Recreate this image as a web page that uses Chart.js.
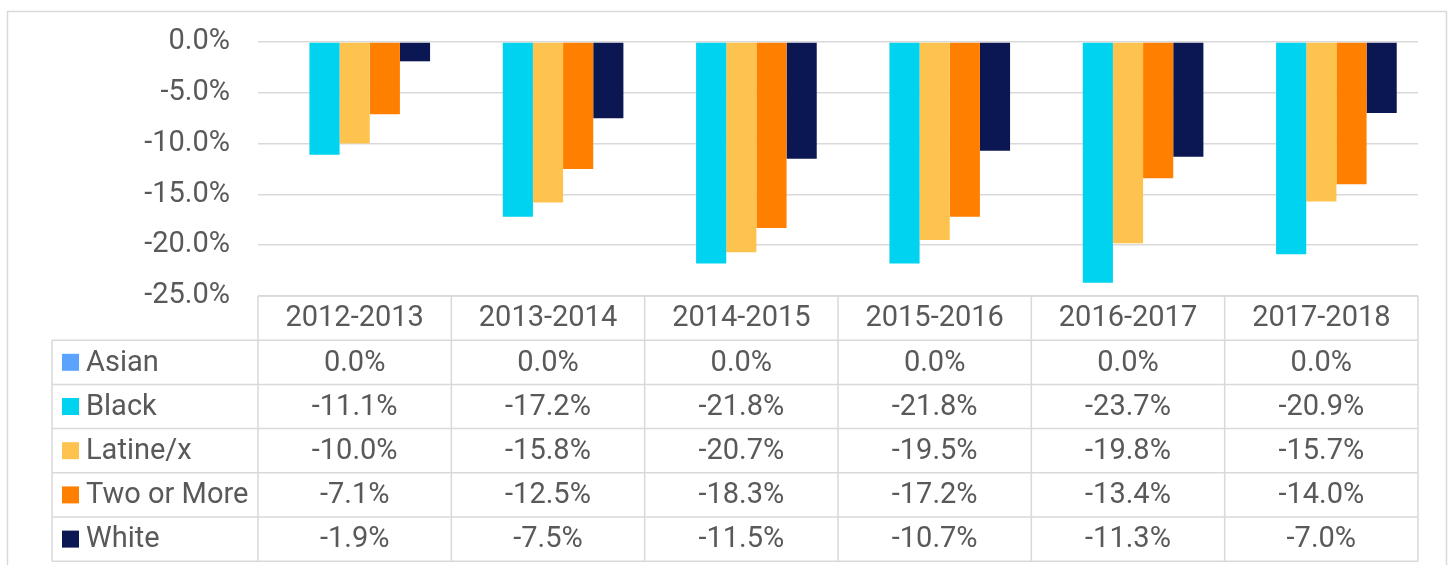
<!DOCTYPE html>
<html>
<head>
<meta charset="utf-8">
<style>
  body { margin: 0; background: #fff; }
  #wrap { width: 1450px; height: 565px; }
</style>
<script src="https://cdn.jsdelivr.net/npm/chart.js@4/dist/chart.umd.min.js"></script>
</head>
<body>
<div id="wrap"><canvas id="chart" width="1450" height="565"></canvas></div>
<script>
const years = ['2012-2013', '2013-2014', '2014-2015', '2015-2016', '2016-2017', '2017-2018'];
const asian = [0.0, 0.0, 0.0, 0.0, 0.0, 0.0];
const black = [-11.1, -17.2, -21.8, -21.8, -23.7, -20.9];
const latine = [-10.0, -15.8, -20.7, -19.5, -19.8, -15.7];
const twoOrMore = [-7.1, -12.5, -18.3, -17.2, -13.4, -14.0];
const white = [-1.9, -7.5, -11.5, -10.7, -11.3, -7.0];
const yTicks = [0, -5, -10, -15, -20, -25];

const FONT = 'Roboto, "Noto Sans", sans-serif';
const TEXT = '#595959';
const LINE = '#d9d9d9';

const fmt = v => v.toFixed(1) + '%';

// outer frame behind everything
const framePlugin = {
  id: 'frame',
  beforeDraw(chart) {
    const c = chart.ctx;
    c.save();
    c.strokeStyle = LINE;
    c.lineWidth = 1.5;
    c.strokeRect(7.5, 11.5, 1439, 600);
    c.restore();
  }
};

// excel style data table under the plot
const tablePlugin = {
  id: 'dataTable',
  afterDraw(chart) {
    const c = chart.ctx;
    const x = chart.scales.x;
    const area = chart.chartArea;
    const colW = (area.right - area.left) / years.length;
    const top = area.bottom;
    const rowH = 44.2;
    const legLeft = 52;
    const rows = chart.data.datasets;
    const bottom = top + rowH * (rows.length + 1);

    c.save();
    c.strokeStyle = LINE;
    c.lineWidth = 1.5;
    c.beginPath();
    c.moveTo(area.left, top); c.lineTo(area.right, top);
    for (let r = 1; r <= rows.length + 1; r++) {
      const y = top + rowH * r;
      c.moveTo(legLeft, y); c.lineTo(area.right, y);
    }
    for (let i = 0; i <= years.length; i++) {
      const xx = area.left + colW * i;
      c.moveTo(xx, top); c.lineTo(xx, bottom);
    }
    c.moveTo(legLeft, top + rowH); c.lineTo(legLeft, bottom);
    c.stroke();

    c.font = '29px ' + FONT;
    c.fillStyle = TEXT;
    c.textBaseline = 'middle';
    c.textAlign = 'center';
    years.forEach((yr, i) => {
      c.fillText(yr, x.getPixelForValue(i), top + rowH / 2 + 1);
    });
    rows.forEach((ds, r) => {
      const cy = top + rowH * (r + 1.5) + 1;
      ds.data.forEach((v, i) => {
        c.fillStyle = TEXT;
        c.textAlign = 'center';
        c.fillText(fmt(v), x.getPixelForValue(i), cy);
      });
      c.fillStyle = ds.backgroundColor;
      c.fillRect(62, cy - 9.5, 17, 17);
      c.fillStyle = TEXT;
      c.textAlign = 'left';
      c.fillText(ds.label, 86, cy);
    });
    c.restore();
  }
};

new Chart(document.getElementById('chart'), {
  type: 'bar',
  data: {
    labels: years,
    datasets: [
      { label: 'Asian', data: asian, backgroundColor: '#5ba3ff' },
      { label: 'Black', data: black, backgroundColor: '#00d3ef' },
      { label: 'Latine/x', data: latine, backgroundColor: '#fec34e' },
      { label: 'Two or More', data: twoOrMore, backgroundColor: '#ff8000' },
      { label: 'White', data: white, backgroundColor: '#0a1752' }
    ]
  },
  options: {
    responsive: false,
    animation: false,
    layout: { padding: { top: 42, right: 32, bottom: 269, left: 0 } },
    datasets: { bar: { categoryPercentage: 0.78, barPercentage: 1.0 } },
    plugins: {
      legend: { display: false },
      tooltip: { enabled: false }
    },
    scales: {
      x: { display: false },
      y: {
        min: -25,
        max: 0,
        afterFit(scale) {
          scale.width = 258;
          scale.paddingTop = 0;
          scale.paddingBottom = 0;
        },
        afterBuildTicks(scale) { scale.ticks = yTicks.map(v => ({ value: v })); },
        border: { display: false },
        grid: { color: LINE, lineWidth: 1.5, drawTicks: false },
        ticks: {
          padding: 28,
          color: TEXT,
          font: { family: FONT, size: 29 },
          callback: v => fmt(v)
        }
      }
    }
  },
  plugins: [framePlugin, tablePlugin]
});
</script>
</body>
</html>
